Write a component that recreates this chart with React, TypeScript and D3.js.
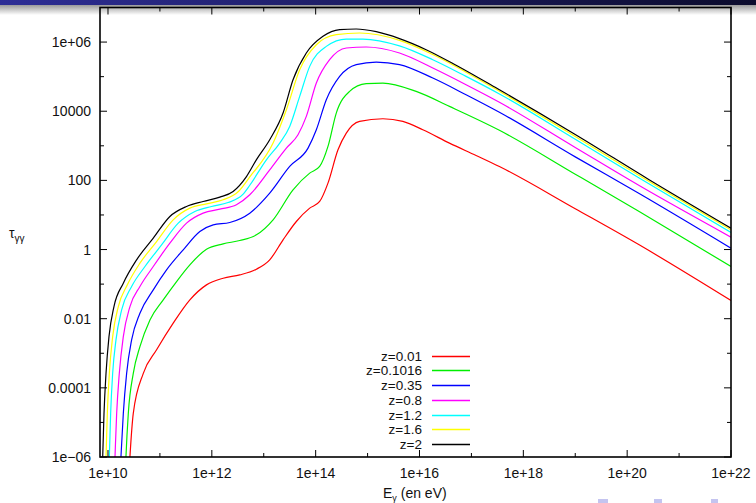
import React from 'react';
import * as d3 from 'd3';

// Legend labels and line colours
const zLabels = ['z=0.01', 'z=0.1016', 'z=0.35', 'z=0.8', 'z=1.2', 'z=1.6', 'z=2'];
const lineColors = ['#ff0000', '#00ee00', '#0000ff', '#ff00ff', '#00ffff', '#ffff00', '#000000'];

// Series: [log10(E in eV), log10(tau)]
const z0p01: [number, number][] = [
  [10.40, -6.6], [10.423, -5.99], [10.487, -4.74], [10.68, -3.58], [10.936, -2.9], [11.256, -2.13],
  [11.577, -1.456], [11.897, -1.022], [12.218, -0.829], [12.538, -0.733], [12.859, -0.568],
  [13.115, -0.298], [13.372, 0.28], [13.628, 0.811], [13.885, 1.197], [14.077, 1.39], [14.237, 1.92],
  [14.43, 2.885], [14.59, 3.368], [14.846, 3.705], [15.295, 3.783], [15.68, 3.705], [16.064, 3.464],
  [16.577, 3.078], [17.09, 2.72], [17.539, 2.40], [19.0, 1.18], [20.231, 0.136], [22.0, -1.475],
];
const z0p1016: [number, number][] = [
  [10.33, -6.6], [10.346, -5.99], [10.391, -4.74], [10.487, -3.58], [10.615, -2.81], [10.808, -2.035],
  [11.064, -1.456], [11.321, -0.925], [11.577, -0.443], [11.897, 0.01], [12.218, 0.165], [12.538, 0.261],
  [12.859, 0.425], [13.18, 0.86], [13.564, 1.728], [13.885, 2.21], [14.077, 2.403], [14.237, 2.982],
  [14.397, 3.947], [14.654, 4.574], [14.974, 4.796], [15.295, 4.815], [15.936, 4.574], [16.577, 4.14],
  [17.539, 3.45], [19.0, 2.18], [20.231, 1.1], [22.0, -0.49],
];
const z0p35: [number, number][] = [
  [10.23, -6.6], [10.25, -5.99], [10.295, -4.74], [10.359, -3.58], [10.455, -2.614], [10.615, -1.842],
  [10.872, -1.167], [11.128, -0.588], [11.449, -0.009], [11.769, 0.522], [12.026, 0.715], [12.346, 0.782],
  [12.731, 1.052], [13.115, 1.631], [13.5, 2.403], [13.853, 2.934], [14.013, 3.464], [14.205, 4.332],
  [14.462, 5.008], [14.782, 5.35], [15.167, 5.423], [15.615, 5.35], [16.256, 4.96], [16.897, 4.477],
  [17.539, 3.97], [19.0, 2.68], [20.231, 1.62], [22.0, 0.04],
];
const z0p8: [number, number][] = [
  [10.12, -6.6], [10.135, -5.99], [10.167, -4.74], [10.218, -3.58], [10.295, -2.517], [10.423, -1.649],
  [10.615, -1.07], [10.872, -0.491], [11.192, 0.184], [11.513, 0.763], [11.833, 1.052], [12.154, 1.168],
  [12.474, 1.294], [12.731, 1.583], [13.115, 2.306], [13.436, 2.934], [13.66, 3.32], [13.82, 3.85],
  [14.013, 4.815], [14.269, 5.49], [14.59, 5.828], [14.974, 5.857], [15.615, 5.683], [16.256, 5.249],
  [16.897, 4.767], [17.539, 4.26], [19.0, 2.95], [20.231, 1.85], [22.0, 0.358],
];
const z1p2: [number, number][] = [
  [10.01, -6.6], [10.026, -5.99], [10.051, -4.74], [10.09, -3.58], [10.154, -2.614], [10.263, -1.746],
  [10.455, -1.07], [10.712, -0.491], [11.032, 0.136], [11.353, 0.763], [11.673, 1.1], [11.994, 1.245],
  [12.314, 1.361], [12.603, 1.60], [12.731, 1.86], [13.051, 2.596], [13.308, 3.078], [13.5, 3.561],
  [13.692, 4.429], [13.885, 5.297], [14.205, 5.876], [14.59, 6.088], [14.91, 6.088], [15.615, 5.89],
  [16.256, 5.49], [16.897, 5.008], [17.539, 4.50], [19.0, 3.19], [20.231, 2.07], [22.0, 0.493],
];
const z1p6: [number, number][] = [
  [9.945, -6.6], [9.962, -5.99], [9.987, -4.74], [10.026, -3.58], [10.09, -2.517], [10.199, -1.649],
  [10.372, -1.022], [10.615, -0.395], [10.936, 0.232], [11.256, 0.86], [11.577, 1.197], [11.897, 1.323],
  [12.218, 1.438], [12.506, 1.67], [12.731, 2.10], [13.18, 3.078], [13.436, 4.043], [13.692, 5.201],
  [14.013, 5.924], [14.397, 6.214], [14.846, 6.262], [15.615, 6.05], [16.256, 5.64], [16.897, 5.13],
  [17.539, 4.58], [19.0, 3.27], [20.231, 2.14], [22.0, 0.57],
];
const z2: [number, number][] = [
  [9.88, -6.6], [9.898, -5.99], [9.923, -4.74], [9.962, -3.58], [10.019, -2.517], [10.115, -1.649],
  [10.295, -0.974], [10.551, -0.298], [10.872, 0.329], [11.192, 0.956], [11.513, 1.245], [11.833, 1.39],
  [12.154, 1.515], [12.41, 1.68], [12.667, 2.11], [12.86, 2.60], [13.115, 3.175], [13.372, 3.947],
  [13.564, 4.911], [13.82, 5.683], [14.141, 6.166], [14.462, 6.359], [14.782, 6.378], [15.167, 6.3],
  [15.615, 6.10], [16.128, 5.78], [16.705, 5.33], [17.539, 4.62], [19.0, 3.33], [20.423, 2.02], [22.0, 0.618],
];
const allSeries = [z0p01, z0p1016, z0p35, z0p8, z1p2, z1p6, z2];

// Axes
const xDomainExp = [9.846, 22];
const yDomain = [1e-6, 1e7];
const xMajorExps = [10, 12, 14, 16, 18, 20, 22];
const xMinorExps = [11, 13, 15, 17, 19, 21];
const yMajorVals = [1e-6, 1e-4, 1e-2, 1, 100, 1e4, 1e6];
const yMajorLabels = ['1e\u221206', '0.0001', '0.01', '1', '100', '10000', '1e+06'];
const yMinorVals = [1e-5, 1e-3, 1e-1, 10, 1000, 1e5, 1e7];

const FONT = '"Liberation Sans", Arial, Helvetica, sans-serif';

export default function App() {
  const L = 100, R = 731, T = 7.5, B = 457;
  const x = d3.scaleLog().domain([10 ** xDomainExp[0], 10 ** xDomainExp[1]]).range([L, R]);
  const y = d3.scaleLog().domain(yDomain).range([B, T]);
  const curveGen = d3.line<[number, number]>()
    .x(d => x(10 ** d[0]))
    .y(d => y(10 ** d[1]))
    .curve(d3.curveMonotoneX);

  const major = 7, minor = 4;
  const legendX = 422, legendY0 = 355.5, legendDy = 14.75;

  return (
    <div style={{ position: 'absolute', left: 0, top: 0 }}>
      <svg width={756} height={503} style={{ display: 'block', background: '#fff' }} fontFamily={FONT}>
        <defs>
          <linearGradient id="hdr" x1="0" x2="1" y1="0" y2="0">
            <stop offset="0" stopColor="#2e2e96" />
            <stop offset="1" stopColor="#0b0b2c" />
          </linearGradient>
          <linearGradient id="shadow" x1="0" x2="0" y1="0" y2="1">
            <stop offset="0" stopColor="#9a9a9a" />
            <stop offset="1" stopColor="#ffffff" />
          </linearGradient>
          <clipPath id="plotclip">
            <rect x={L} y={T} width={R - L} height={B - T} />
          </clipPath>
        </defs>
        <rect x={0} y={5} width={756} height={10} fill="url(#shadow)" />
        <rect x={0} y={0} width={756} height={5} fill="url(#hdr)" />

        {/* curves */}
        <g clipPath="url(#plotclip)">
          {allSeries.map((s, i) => (
            <path key={i} d={curveGen(s) || ''} fill="none" stroke={lineColors[i]} strokeWidth={1.2} />
          ))}
        </g>

        {/* ticks */}
        <g stroke="#000" strokeWidth={1}>
          {xMajorExps.map(e => {
            const px = x(10 ** e);
            return (
              <g key={'xM' + e}>
                <line x1={px} x2={px} y1={B} y2={B - major} />
                <line x1={px} x2={px} y1={T} y2={T + major} />
              </g>
            );
          })}
          {xMinorExps.map(e => {
            const px = x(10 ** e);
            return (
              <g key={'xm' + e}>
                <line x1={px} x2={px} y1={B} y2={B - minor} />
                <line x1={px} x2={px} y1={T} y2={T + minor} />
              </g>
            );
          })}
          {yMajorVals.map(v => {
            const py = y(v);
            return (
              <g key={'yM' + v}>
                <line x1={L} x2={L + major} y1={py} y2={py} />
                <line x1={R} x2={R - major} y1={py} y2={py} />
              </g>
            );
          })}
          {yMinorVals.map(v => {
            const py = y(v);
            return (
              <g key={'ym' + v}>
                <line x1={L} x2={L + minor} y1={py} y2={py} />
                <line x1={R} x2={R - minor} y1={py} y2={py} />
              </g>
            );
          })}
        </g>

        {/* frame */}
        <rect x={L} y={T} width={R - L} height={B - T} fill="none" stroke="#000" strokeWidth={1.6} />

        {/* tick labels */}
        <g fontSize={14} fill="#111">
          {xMajorExps.map(e => (
            <text key={'xl' + e} x={x(10 ** e)} y={478} textAnchor="middle">{'1e+' + e}</text>
          ))}
          {yMajorVals.map((v, i) => (
            <text key={'yl' + i} x={91} y={y(v) + 5} textAnchor="end">{yMajorLabels[i]}</text>
          ))}
        </g>

        {/* axis labels */}
        <text x={383} y={497.5} fontSize={14} fill="#111">
          E<tspan fontSize={9} dy={3}>γ</tspan><tspan dy={-3}> (en eV)</tspan>
        </text>
        <text x={9} y={238} fontSize={14} fill="#111">
          τ<tspan fontSize={10} dy={4}>γγ</tspan>
        </text>

        {/* legend */}
        <g fontSize={13.5} fill="#111">
          {zLabels.map((lab, i) => {
            const ly = Math.round(legendY0 + i * legendDy) + 0.5;
            return (
              <g key={lab}>
                <text x={legendX} y={ly + 4.8} textAnchor="end">{lab}</text>
                <path d={`M432,${ly}H470`} stroke={lineColors[i]} strokeWidth={1.3} fill="none" />
              </g>
            );
          })}
        </g>

        {/* navigation symbols (cut off) */}
        <g fill="#c4c4f0">
          <rect x={598} y={499} width={10} height={4} />
          <rect x={654} y={499} width={8} height={4} />
          <rect x={711} y={499} width={7} height={4} />
        </g>
      </svg>
    </div>
  );
}
